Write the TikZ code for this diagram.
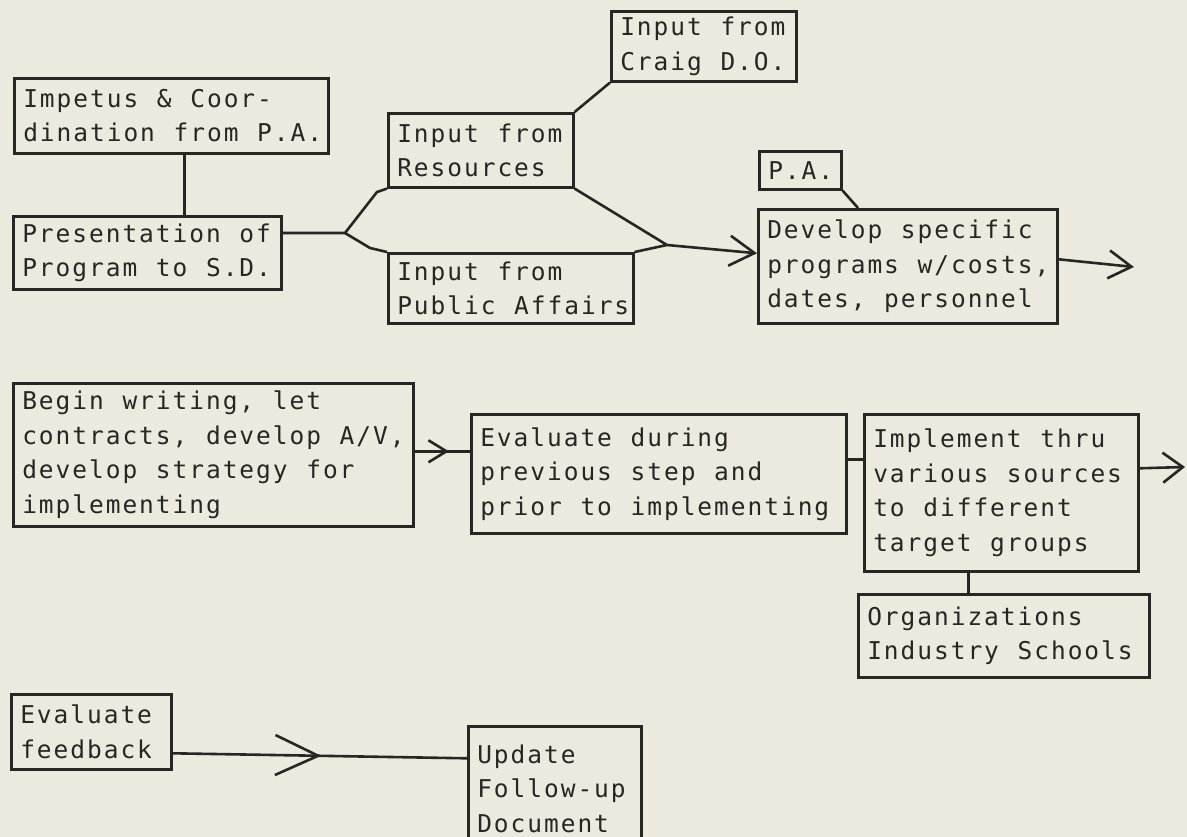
\documentclass[tikz,border=0pt]{standalone}
\usepackage{fontspec}
\newfontfamily\tw[LetterSpace=8]{DejaVu Sans Mono}
\newcommand\gap{\char"00A0\relax}
\usetikzlibrary{arrows.meta,decorations.markings}
\definecolor{paper}{RGB}{236,234,222}
\definecolor{ink}{RGB}{38,38,36}
\begin{document}
\begin{tikzpicture}[x=1pt,y=-1pt,
  box/.style 2 args={draw=ink, line width=2.6pt, anchor=north west, text=ink,
    font=\tw\fontsize{24.5}{34.5}\selectfont, align=left, inner xsep=9pt, inner ysep=0pt,
    text width=#1, minimum height=#2},
  conn/.style={draw=ink, line width=2.6pt},
  midarr/.style n args={3}{postaction={decorate,decoration={markings,
    mark=at position #1 with {\arrow{Straight Barb[length=#2,width=#3]}}}}}]
\useasboundingbox (0,0) rectangle (1187,837);
\fill[paper] (0,0) rectangle (1187,837);
\clip (0,0) rectangle (1187,837);

\node[box={296pt}{75pt}] (imp) at (13,77) {Impetus\gap\&\gap Coor-\\dination\gap from\gap P.A.};
\node[box={250pt}{73pt}] (pres) at (12,215) {Presentation\gap of\\Program\gap to\gap S.D.};
\node[box={167pt}{74pt}] (res) at (387,112) {Input\gap from\\Resources};
\node[box={167pt}{70pt}] (craig) at (610,10) {Input\gap from\\Craig\gap D.O.};
\node[box={227pt}{70pt}] (pub) at (387,252) {Input\gap from\\Public\gap Affairs};
\node[box={64pt}{38pt}] (pa) at (758,150) {P.A.};
\node[box={281pt}{114pt}] (dev) at (757,208) {Develop\gap specific\\programs\gap w/costs,\\dates,\gap personnel};
\node[box={382pt}{143pt}] (begin) at (12,382) {Begin\gap writing,\gap let\\contracts,\gap develop\gap A/V,\\develop\gap strategy\gap for\\implementing};
\node[box={357pt}{119pt}] (eval) at (470,413) {Evaluate\gap during\\previous\gap step\gap and\\prior\gap to\gap implementing};
\node[box={256pt}{157pt}] (impl) at (863,413) {Implement\gap thru\\various\gap sources\\to\gap different\\target\gap groups};
\node[box={273pt}{83pt}] (org) at (857,593) {Organizations\\Industry\gap Schools};
\node[box={142pt}{75pt}] (fb) at (10,693) {Evaluate\\feedback};
\node[box={155pt}{125pt}] (upd) at (467,725) {Update\\Follow-up\\Document};

\coordinate (br) at (345,233);
\coordinate (j) at (667,245);
\coordinate (o1) at (1134,267);
\coordinate (o2) at (1185,467);

\draw[conn] ([xshift=13pt]imp.south) -- ([xshift=13pt]imp.south |- pres.north);
\draw[conn] (pres.east |- br) -- (br) -- (377,192) -- (res.south west);
\draw[conn] (br) -- (370,248) -- (pub.north west);
\draw[conn] (res.south east) -- (j) -- (pub.north east);
\draw[conn, -{Straight Barb[length=25pt,width=30pt]}] (j) -- ([yshift=13pt]dev.west);
\draw[conn] (res.north east) -- (craig.south west);
\draw[conn] (pa.south east) -- ([xshift=101pt]dev.north west);
\draw[conn, -{Straight Barb[length=23pt,width=28pt]}] ([yshift=7pt]dev.east) -- (o1);

\draw[conn, midarr={0.62}{18pt}{22pt}] ([yshift=3.5pt]begin.east) -- ([yshift=22.5pt]eval.west);
\draw[conn] ([yshift=14.5pt]eval.east) -- ([yshift=33.5pt]impl.west);
\draw[conn, -{Straight Barb[length=20pt,width=30pt]}] ([yshift=24.5pt]impl.east) -- (o2);
\draw[conn] ([xshift=-33pt]impl.south) -- ([xshift=-33pt]impl.south |- org.north);

\draw[conn, midarr={0.505}{43pt}{40pt}] ([yshift=-21.5pt]fb.east) -- ([yshift=30.5pt]upd.west);
\end{tikzpicture}
\end{document}
